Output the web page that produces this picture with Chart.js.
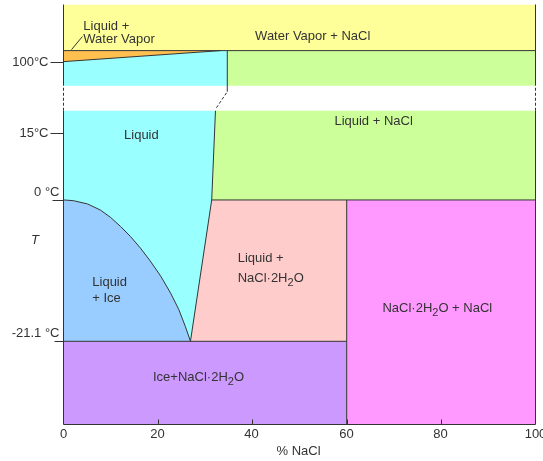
<!DOCTYPE html>
<html>
<head>
<meta charset="utf-8">
<script src="https://cdn.jsdelivr.net/npm/chart.js@4/dist/chart.umd.min.js"></script>
<style>
  html, body { margin: 0; padding: 0; background: #fff; }
  canvas { display: block; }
</style>
</head>
<body>
<canvas id="phaseChart" width="543" height="461"></canvas>
<script>
// x = % NaCl, y = schematic level (the T axis is broken and not to scale)
var xTicks = [0, 20, 40, 60, 80, 100];
var tempLabels = ['100°C', '15°C', '0 °C', '-21.1 °C'];
var tempLevels = [362, 291, 224, 83];

var topLevel = 419;
var vaporLevel = 373;
var gapLow = 313;
var gapHigh = 338;
var dihydrateX = 60;

// liquid / liquid+ice boundary
var iceCurveX = [0, 2.1, 5.1, 7.8, 10.0, 12.1, 14.2, 16.3, 18.4, 20.6, 22.7, 24.4, 25.8, 26.9];
var iceCurveY = [224, 223.3, 220, 214, 206.5, 197.5, 187.5, 176, 163, 148, 131, 115, 98, 83];
// liquid / solid boundary (solubility line)
var liquidusX = [26.9, 31.4, 32.2];
var liquidusY = [83, 224, 313];
var breakX = [32.4, 34.7];
var breakY = [316, 332];
var upperSatX = 34.7;
// boiling line
var boilX = [0, 33.3];
var boilY = [362, 373];

function pts(xs, ys) {
  return xs.map(function (x, i) { return { x: x, y: ys[i] }; });
}

var iceCurve = pts(iceCurveX, iceCurveY);
var liquidus = pts(liquidusX, liquidusY);
var eutX = iceCurveX[iceCurveX.length - 1];
var eutY = tempLevels[3];
var zeroY = tempLevels[2];

var regions = [
  { color: '#ffff99', data: pts([0, 100, 100, 0], [vaporLevel, vaporLevel, topLevel, topLevel]) },
  { color: '#ffc050', data: pts([0, boilX[1], 0], [boilY[0], boilY[1], vaporLevel]) },
  { color: '#99ffff', data: pts([0, upperSatX, upperSatX, boilX[1], 0], [gapHigh, gapHigh, vaporLevel, vaporLevel, boilY[0]]) },
  { color: '#ccff99', data: pts([upperSatX, 100, 100, upperSatX], [gapHigh, gapHigh, vaporLevel, vaporLevel]) },
  { color: '#99ffff', data: iceCurve.concat(liquidus.slice(1), [{ x: 0, y: gapLow }]) },
  { color: '#ccff99', data: pts([liquidusX[1], 100, 100, liquidusX[2]], [zeroY, zeroY, gapLow, gapLow]) },
  { color: '#99ccff', data: iceCurve.concat([{ x: 0, y: eutY }]) },
  { color: '#ffcccc', data: pts([liquidusX[1], dihydrateX, dihydrateX, eutX], [zeroY, zeroY, eutY, eutY]) },
  { color: '#cc99ff', data: pts([0, dihydrateX, dihydrateX, 0], [0, 0, eutY, eutY]) },
  { color: '#ff99ff', data: pts([dihydrateX, 100, 100, dihydrateX], [0, 0, zeroY, zeroY]) }
];

var lines = [
  { data: iceCurve },
  { data: liquidus },
  { data: pts(breakX, breakY), dash: [3, 2] },
  { data: pts([upperSatX, upperSatX], [breakY[1], vaporLevel]) },
  { data: pts(boilX, boilY) },
  { data: pts([0, 100], [vaporLevel, vaporLevel]) },
  { data: pts([liquidusX[1], 100], [zeroY, zeroY]) },
  { data: pts([0, dihydrateX], [eutY, eutY]) },
  { data: pts([dihydrateX, dihydrateX], [0, zeroY]) },
  { data: pts([0, 100], [0, 0]) },
  { data: pts([0, 0], [0, gapLow]) },
  { data: pts([0, 0], [gapHigh, topLevel]) },
  { data: pts([100, 100], [0, gapLow]) },
  { data: pts([100, 100], [gapHigh, topLevel]) },
  { data: pts([0, 0], [gapLow, gapHigh]), dash: [3, 2] },
  { data: pts([100, 100], [gapLow, gapHigh]), dash: [3, 2] }
];

var datasets = [];
regions.forEach(function (r) {
  datasets.push({
    data: r.data, showLine: true, fill: 'shape', backgroundColor: r.color,
    borderWidth: 0, pointRadius: 0, order: 2, clip: false
  });
});
lines.forEach(function (l) {
  datasets.push({
    data: l.data, showLine: true, fill: false, borderColor: '#333',
    borderWidth: 1, borderDash: l.dash || [], pointRadius: 0, order: 1, clip: false
  });
});

// region labels: [parts, x, y, align]; odd parts are drawn as subscripts
var regionLabels = [
  [['Liquid +'], 4.2, 397, 'left'],
  [['Water Vapor'], 4.2, 384, 'left'],
  [['Water Vapor + NaCl'], 52.8, 387, 'center'],
  [['Liquid'], 16.5, 288, 'center'],
  [['Liquid + NaCl'], 65.7, 302, 'center'],
  [['Liquid'], 6.1, 142, 'left'],
  [['+ Ice'], 6.1, 126, 'left'],
  [['Liquid +'], 36.9, 166, 'left'],
  [['NaCl·2H', '2', 'O'], 36.9, 146, 'left'],
  [['NaCl·2H', '2', 'O + NaCl'], 79.2, 116, 'center'],
  [['Ice+NaCl·2H', '2', 'O'], 28.6, 47, 'center']
];

var FONT = '13px "Liberation Sans", Arial, sans-serif';
var SUBFONT = '11px "Liberation Sans", Arial, sans-serif';

function drawParts(ctx, parts, x, y, align) {
  var widths = parts.map(function (p, i) {
    ctx.font = i % 2 ? SUBFONT : FONT;
    return ctx.measureText(p).width;
  });
  var total = widths.reduce(function (a, b) { return a + b; }, 0);
  var cx = align === 'center' ? x - total / 2 : x;
  ctx.textAlign = 'left';
  ctx.textBaseline = 'middle';
  parts.forEach(function (p, i) {
    ctx.font = i % 2 ? SUBFONT : FONT;
    ctx.fillText(p, cx, i % 2 ? y + 5 : y);
    cx += widths[i];
  });
}

var annotate = {
  id: 'annotate',
  afterDatasetsDraw: function (chart) {
    var ctx = chart.ctx;
    var xs = chart.scales.x, ys = chart.scales.y;
    ctx.save();
    ctx.fillStyle = '#333';
    ctx.strokeStyle = '#333';
    ctx.lineWidth = 1;

    regionLabels.forEach(function (l) {
      drawParts(ctx, l[0], xs.getPixelForValue(l[1]), ys.getPixelForValue(l[2]), l[3]);
    });

    // leader line for the small vapour region
    ctx.beginPath();
    ctx.moveTo(xs.getPixelForValue(1.7), ys.getPixelForValue(374));
    ctx.lineTo(xs.getPixelForValue(4.0), ys.getPixelForValue(387));
    ctx.stroke();

    // x axis ticks and labels
    var bottom = ys.getPixelForValue(0);
    ctx.font = FONT;
    ctx.textAlign = 'center';
    ctx.textBaseline = 'middle';
    xTicks.forEach(function (t) {
      var px = Math.round(xs.getPixelForValue(t)) + 0.5;
      if (t > 0 && t < 100) {
        ctx.beginPath();
        ctx.moveTo(px, bottom);
        ctx.lineTo(px, bottom - 5);
        ctx.stroke();
      }
      ctx.fillText(String(t), px - 1, bottom + 10);
    });
    ctx.fillText('% NaCl', xs.getPixelForValue(49.8), bottom + 27);

    // y axis ticks and labels
    var left = xs.getPixelForValue(0);
    var tickLen = [13, 13, 11, 9];
    tempLevels.forEach(function (v, i) {
      var py = Math.round(ys.getPixelForValue(v)) + 0.5;
      ctx.beginPath();
      ctx.moveTo(left - tickLen[i], py);
      ctx.lineTo(left, py);
      ctx.stroke();
      ctx.font = FONT;
      ctx.textAlign = 'right';
      if (i < 2) {
        ctx.fillText(tempLabels[i], left - tickLen[i] - 2, py);
      } else {
        ctx.fillText(tempLabels[i], left - 4, py - 8);
      }
    });
    ctx.font = 'italic 13px "Liberation Sans", Arial, sans-serif';
    ctx.textAlign = 'center';
    ctx.fillText('T', 35, ys.getPixelForValue(184));
    ctx.restore();
  }
};

new Chart(document.getElementById('phaseChart').getContext('2d'), {
  type: 'scatter',
  data: { datasets: datasets },
  options: {
    responsive: false,
    animation: false,
    devicePixelRatio: 1,
    layout: { padding: { left: 63.5, right: 7.5, top: 4.5, bottom: 36.5 } },
    scales: {
      x: { type: 'linear', min: 0, max: 100, display: false },
      y: { type: 'linear', min: 0, max: topLevel, display: false }
    },
    plugins: {
      legend: { display: false },
      tooltip: { enabled: false }
    }
  },
  plugins: [annotate]
});
</script>
</body>
</html>
